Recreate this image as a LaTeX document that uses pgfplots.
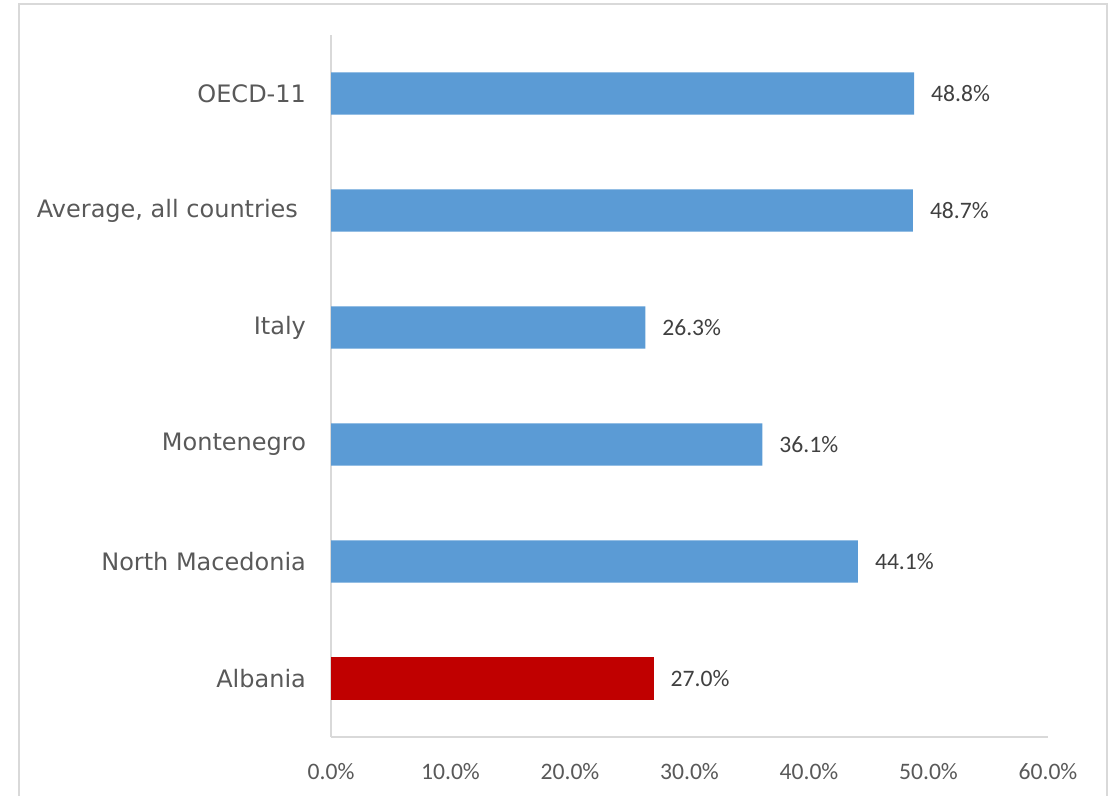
\documentclass[border=0pt]{standalone}
\usepackage{pgfplots}
\pgfplotsset{compat=1.18}
\usepackage{fontspec}
\setmainfont{Carlito}
\newfontfamily\catfont{DejaVu Sans}
\definecolor{barblue}{HTML}{5B9BD5}
\definecolor{barred}{HTML}{C00000}
\definecolor{gridgrey}{HTML}{D9D9D9}
\definecolor{ticktext}{HTML}{595959}
\definecolor{labeltext}{HTML}{404040}
\begin{document}
\begin{tikzpicture}
% 1 px of the reference = 0.5pt
\path[use as bounding box] (0,0) rectangle (559pt,-398pt);
\draw[gridgrey, line width=1pt] (9.5pt,-2pt) rectangle (553.5pt,-410pt);
\begin{axis}[
    at={(165.5pt,-368.5pt)}, anchor=south west,
    scale only axis,
    width=358.5pt, height=351pt,
    xbar, bar width=0.36,
    xmin=0, xmax=60,
    ymin=-0.5, ymax=5.5,
    ytick={0,...,5},
    yticklabels={Albania,North Macedonia,Montenegro,Italy,{Average, all countries\kern4pt},OECD-11},
    yticklabel style={font=\catfont\fontsize{12}{14}\selectfont, text=ticktext, xshift=-9pt},
    xtick={0,10,...,60},
    xticklabel={\pgfmathprintnumber[fixed,fixed zerofill,precision=1]{\tick}\%},
    xticklabel style={font=\fontsize{11.8}{13}\selectfont, text=ticktext, yshift=-9.5pt},
    /pgf/number format/assume math mode=true,
    major tick length=0pt,
    axis x line*=bottom, axis y line*=left,
    axis line style={gridgrey, line width=1pt},
    x axis line style={-}, y axis line style={-},
    nodes near coords={\pgfmathprintnumber[fixed,fixed zerofill,precision=1]{\pgfplotspointmeta}\%},
    nodes near coords style={font=\fontsize{11.8}{13}\selectfont, text=labeltext, anchor=west, xshift=5pt},
    point meta=explicit,
    clip=false,
]
\addplot[fill=barblue, draw=none, bar shift=0pt] coordinates {
    (44.1,1) [44.1]
    (36.1,2) [36.1]
    (26.3,3) [26.3]
    (48.7,4) [48.7]
    (48.8,5) [48.8]
};
\addplot[fill=barred, draw=none, bar shift=0pt] coordinates {
    (27.0,0) [27.0]
};
\end{axis}
\end{tikzpicture}
\end{document}
